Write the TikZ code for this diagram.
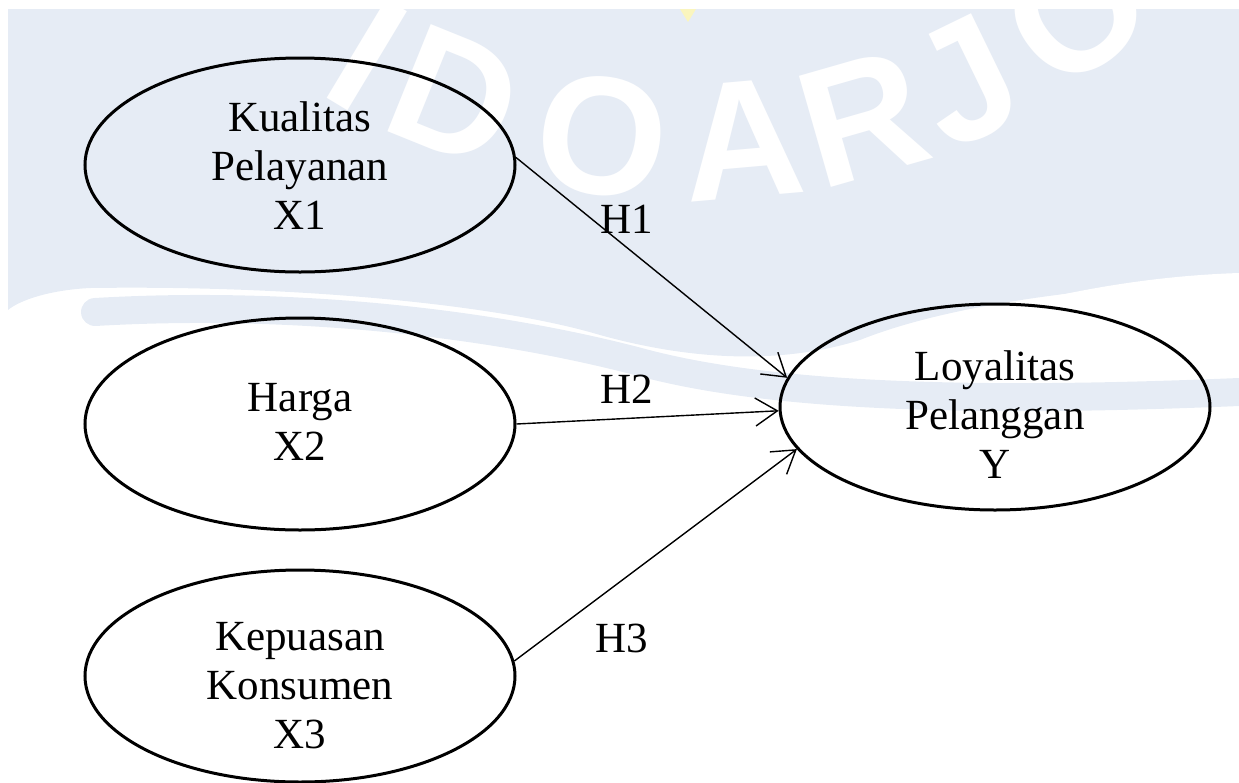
\documentclass[tikz,border=0pt]{standalone}
\usepackage{fontspec}
\setmainfont{Liberation Serif}
\newfontfamily\wmfont{Liberation Sans}
\usetikzlibrary{arrows.meta,shapes.geometric}
\definecolor{wmblue}{RGB}{230,236,245}
\definecolor{wmyellow}{RGB}{250,245,190}
\tikzset{
  var/.style={draw, ellipse, line width=1.5pt, minimum width=215pt, minimum height=106pt, inner sep=0pt},
  vtext/.style={align=center, font=\fontsize{21.5}{24.5}\selectfont, inner sep=0pt},
  hyp/.style={font=\fontsize{21.5}{24.5}\selectfont, inner sep=0pt, anchor=base},
  conn/.style={line width=0.7pt, -{Straight Barb[length=11pt,width=14pt]}},
  wmletter/.style={text=white, font=\wmfont\bfseries\fontsize{84}{84}\selectfont, inner sep=0pt},
  wmband/.style={draw=wmblue, line cap=round},
}
\begin{document}
\begin{tikzpicture}[x=0.5pt,y=-0.5pt]
\useasboundingbox (0,0) rectangle (1239,783);
% faint watermark
\fill[wmblue] (8,9) -- (1239,9) -- (1239,280)
  .. controls (1120,285) and (960,300) .. (860,340)
  .. controls (780,365) and (690,360) .. (600,335)
  .. controls (500,305) and (300,285) .. (90,288)
  .. controls (50,290) and (20,300) .. (8,310) -- cycle;
\draw[wmband, line width=14pt] (95,312) .. controls (300,300) and (500,325) .. (640,362)
  .. controls (780,400) and (1000,402) .. (1239,392);
\draw[white, line width=9pt, line cap=round] (960,330) .. controls (1060,300) and (1150,285) .. (1239,282);
\node[wmletter, rotate=-31] (wm2) at (367,55) {I};
\node[wmletter, rotate=-22] (wm3) at (455,97) {D};
\node[wmletter, rotate=-8] (wm4) at (602,136) {O};
\node[wmletter, rotate=5] (wm5) at (743,140) {A};
\node[wmletter, rotate=16] (wm6) at (863,118) {R};
\node[wmletter, rotate=26] (wm7) at (966,82) {J};
\node[wmletter, rotate=38] (wm8) at (1076,12) {O};
\fill[wmyellow] (680,9) -- (696,9) -- (688,22) -- cycle;
% variables
\node[var, minimum height=107pt] (x1) at (300,165) {};
\node[vtext] (x1t) at (300,166) {Kualitas\\Pelayanan\\X1};
\node[var] (x2) at (300,424) {};
\node[vtext] (x2t) at (300,422) {Harga\\X2};
\node[var] (x3) at (300,676) {};
\node[vtext] (x3t) at (300,686) {Kepuasan\\Konsumen\\X3};
\node[var, minimum height=103pt] (y) at (995,407) {};
\node[vtext] (yt) at (995,415) {Loyalitas\\Pelanggan\\Y};
% connectors
\draw[conn] (x1.2) -- (y.172);
\draw[conn] (x2.0.5) -- (y.181);
\draw[conn] (x3.4.5) -- (y.192);
\node[hyp] (h1) at (627,233) {H1};
\node[hyp] (h2) at (627,403) {H2};
\node[hyp] (h3) at (622,652) {H3};
\end{tikzpicture}
\end{document}
